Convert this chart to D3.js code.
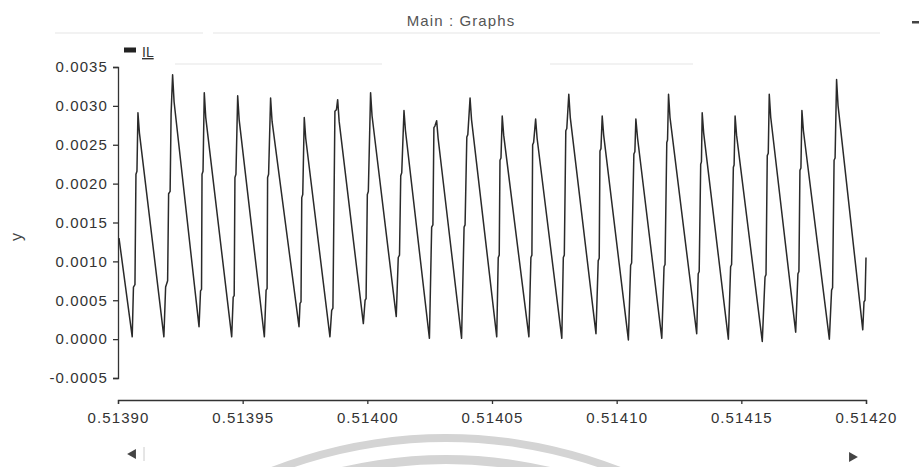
<!DOCTYPE html>
<meta charset="utf-8">
<script src="https://d3js.org/d3.v7.min.js"></script>
<style>
  body { margin: 0; background: #fff; }
  text { font-family: "Liberation Sans", Arial, sans-serif; }
</style>
<body>
<div id="my_dataviz"></div>
<script>
  // IL samples (time in s, current in A), one row per cycle
  const timeS = [
    0.5139004,
    0.5139057, 0.5139062, 0.5139068, 0.5139072, 0.5139076, 0.5139080, 0.5139086,
    0.5139184, 0.5139191, 0.5139199, 0.5139203, 0.5139209, 0.5139213, 0.5139219, 0.5139225,
    0.5139325, 0.5139331, 0.5139335, 0.5139337, 0.5139341, 0.5139346, 0.5139352,
    0.5139456, 0.5139462, 0.5139466, 0.5139469, 0.5139473, 0.5139480, 0.5139486,
    0.5139587, 0.5139594, 0.5139598, 0.5139600, 0.5139604, 0.5139612, 0.5139618,
    0.5139726, 0.5139730, 0.5139734, 0.5139737, 0.5139741, 0.5139747, 0.5139753,
    0.5139850, 0.5139857, 0.5139862, 0.5139870, 0.5139876, 0.5139881, 0.5139887,
    0.5139984, 0.5139991, 0.5139995, 0.5140000, 0.5140004, 0.5140013, 0.5140019,
    0.5140116, 0.5140124, 0.5140129, 0.5140134, 0.5140138, 0.5140147, 0.5140153,
    0.5140249, 0.5140258, 0.5140263, 0.5140267, 0.5140271, 0.5140278, 0.5140284,
    0.5140378, 0.5140388, 0.5140392, 0.5140399, 0.5140403, 0.5140412, 0.5140418,
    0.5140519, 0.5140525, 0.5140529, 0.5140532, 0.5140536, 0.5140541, 0.5140547,
    0.5140648, 0.5140656, 0.5140660, 0.5140663, 0.5140667, 0.5140675, 0.5140681,
    0.5140780, 0.5140786, 0.5140790, 0.5140796, 0.5140800, 0.5140808, 0.5140814,
    0.5140917, 0.5140926, 0.5140930, 0.5140933, 0.5140937, 0.5140942, 0.5140948,
    0.5141047, 0.5141056, 0.5141060, 0.5141069, 0.5141073, 0.5141077, 0.5141084,
    0.5141181, 0.5141190, 0.5141194, 0.5141201, 0.5141204, 0.5141208, 0.5141214,
    0.5141321, 0.5141327, 0.5141331, 0.5141337, 0.5141340, 0.5141343, 0.5141349,
    0.5141448, 0.5141457, 0.5141461, 0.5141468, 0.5141471, 0.5141475, 0.5141481,
    0.5141584, 0.5141595, 0.5141599, 0.5141604, 0.5141608, 0.5141612, 0.5141618,
    0.5141718, 0.5141727, 0.5141731, 0.5141735, 0.5141739, 0.5141743, 0.5141749,
    0.5141853, 0.5141862, 0.5141866, 0.5141872, 0.5141876, 0.5141882, 0.5141888,
    0.5141987, 0.5141992, 0.5141996, 0.5142000
  ];
  const ilA = [
    0.00130,
    0.00003, 0.00067, 0.00070, 0.00212, 0.00216, 0.00291, 0.00265,
    0.00003, 0.00067, 0.00075, 0.00187, 0.00190, 0.00290, 0.00340, 0.00305,
    0.00016, 0.00062, 0.00064, 0.00212, 0.00216, 0.00317, 0.00285,
    0.00003, 0.00054, 0.00056, 0.00208, 0.00212, 0.00313, 0.00282,
    0.00003, 0.00063, 0.00065, 0.00208, 0.00212, 0.00310, 0.00280,
    0.00016, 0.00046, 0.00048, 0.00182, 0.00186, 0.00285, 0.00258,
    0.00003, 0.00037, 0.00040, 0.00293, 0.00295, 0.00308, 0.00280,
    0.00020, 0.00050, 0.00052, 0.00186, 0.00190, 0.00317, 0.00287,
    0.00029, 0.00105, 0.00108, 0.00210, 0.00214, 0.00294, 0.00268,
    0.00001, 0.00144, 0.00147, 0.00272, 0.00274, 0.00281, 0.00258,
    0.00001, 0.00144, 0.00147, 0.00260, 0.00263, 0.00310, 0.00282,
    0.00003, 0.00105, 0.00108, 0.00230, 0.00233, 0.00287, 0.00262,
    0.00003, 0.00105, 0.00108, 0.00250, 0.00253, 0.00283, 0.00258,
    0.00001, 0.00105, 0.00108, 0.00268, 0.00271, 0.00315, 0.00285,
    0.00007, 0.00101, 0.00104, 0.00242, 0.00245, 0.00287, 0.00262,
    -0.00001, 0.00095, 0.00098, 0.00238, 0.00241, 0.00283, 0.00258,
    0.00001, 0.00093, 0.00096, 0.00253, 0.00256, 0.00315, 0.00285,
    0.00007, 0.00084, 0.00087, 0.00225, 0.00228, 0.00291, 0.00265,
    0.00000, 0.00093, 0.00096, 0.00221, 0.00224, 0.00287, 0.00262,
    -0.00003, 0.00080, 0.00083, 0.00236, 0.00239, 0.00315, 0.00285,
    0.00009, 0.00084, 0.00087, 0.00217, 0.00220, 0.00294, 0.00268,
    0.00000, 0.00063, 0.00066, 0.00230, 0.00233, 0.00334, 0.00300,
    0.00012, 0.00048, 0.00050, 0.00105
  ];

  const xTicks = [0.51390, 0.51395, 0.51400, 0.51405, 0.51410, 0.51415, 0.51420];
  const yTicks = [-0.0005, 0.0000, 0.0005, 0.0010, 0.0015, 0.0020, 0.0025, 0.0030, 0.0035];

  const width = 920, height = 467;
  const plot = {left: 118, right: 866, top: 67, bottom: 378, xAxisY: 400};

  const svg = d3.select("#my_dataviz")
    .append("svg")
      .attr("width", width)
      .attr("height", height);

  // faint scan marks and watermark arcs
  const faint = [[55, 33, 203], [213, 33, 880], [175, 64, 382], [550, 64, 693]];
  svg.append("g").selectAll("line")
    .data(faint).enter().append("line")
      .attr("x1", d => d[0]).attr("x2", d => d[2])
      .attr("y1", d => d[1]).attr("y2", d => d[1])
      .style("stroke", "#eeeeee").style("stroke-width", 1.5);

  const arc = d3.arc().startAngle(-0.6).endAngle(0.6);
  svg.append("g")
    .attr("transform", "translate(446, 913)")
    .selectAll("path")
    .data([[471, 479], [449, 458]]).enter().append("path")
      .attr("d", d => arc({innerRadius: d[0], outerRadius: d[1]}))
      .style("fill", "#d4d4d4");

  const x = d3.scaleLinear().domain([0.51390, 0.51420]).range([plot.left, plot.right]);
  const y = d3.scaleLinear().domain([-0.0005, 0.0035]).range([plot.bottom, plot.top]);

  const yAxis = svg.append("g")
    .attr("transform", `translate(${plot.left}, 0)`)
    .call(d3.axisLeft(y).tickValues(yTicks).tickFormat(d3.format(".4f"))
      .tickSize(5).tickPadding(5));

  const xAxis = svg.append("g")
    .attr("transform", `translate(0, ${plot.xAxisY})`)
    .call(d3.axisBottom(x).tickValues(xTicks).tickFormat(d3.format(".5f"))
      .tickSize(4).tickPadding(8));

  [yAxis, xAxis].forEach(function(g) {
    g.selectAll("path, line").style("stroke", "#333").style("stroke-width", 1.3);
    g.selectAll("text")
      .style("font-size", "15px")
      .style("letter-spacing", "1.1px")
      .style("fill", "#333");
  });
  yAxis.selectAll("text").text(d => d < 0 ? "-" + d3.format(".4f")(-d) : d3.format(".4f")(d));

  // the IL trace
  const line = d3.line()
    .x(function(d, i) { return x(timeS[i]); })
    .y(function(d) { return y(d); });

  svg.append("path")
    .datum(ilA)
    .attr("d", line)
    .style("fill", "none")
    .style("stroke", "#2a2a2a")
    .style("stroke-width", 1.5)
    .style("stroke-linejoin", "round");

  // title, legend, axis name, scroll arrows
  svg.append("text")
    .attr("x", 461).attr("y", 26)
    .attr("text-anchor", "middle")
    .style("font-size", "15px").style("letter-spacing", "1.1px")
    .style("fill", "#555")
    .text("Main : Graphs");

  svg.append("rect")
    .attr("x", 912).attr("y", 21).attr("width", 7).attr("height", 2.5)
    .style("fill", "#444");

  svg.append("rect")
    .attr("x", 124).attr("y", 47.5).attr("width", 12).attr("height", 5)
    .style("fill", "#222");
  svg.append("text")
    .attr("x", 142).attr("y", 57)
    .style("font-size", "14px")
    .style("text-decoration", "underline")
    .style("fill", "#333")
    .text("IL");

  svg.append("text")
    .attr("transform", "translate(22, 237) rotate(-90)")
    .attr("text-anchor", "middle")
    .style("font-size", "16px")
    .style("fill", "#444")
    .text("y");

  svg.append("path")
    .attr("d", d3.symbol(d3.symbolTriangle, 45)())
    .attr("transform", "translate(133, 454) rotate(-90)")
    .style("fill", "#444");
  svg.append("line")
    .attr("x1", 144).attr("x2", 144).attr("y1", 447).attr("y2", 461)
    .style("stroke", "#ccc");
  svg.append("path")
    .attr("d", d3.symbol(d3.symbolTriangle, 45)())
    .attr("transform", "translate(852, 457) rotate(90)")
    .style("fill", "#444");
</script>
</body>
